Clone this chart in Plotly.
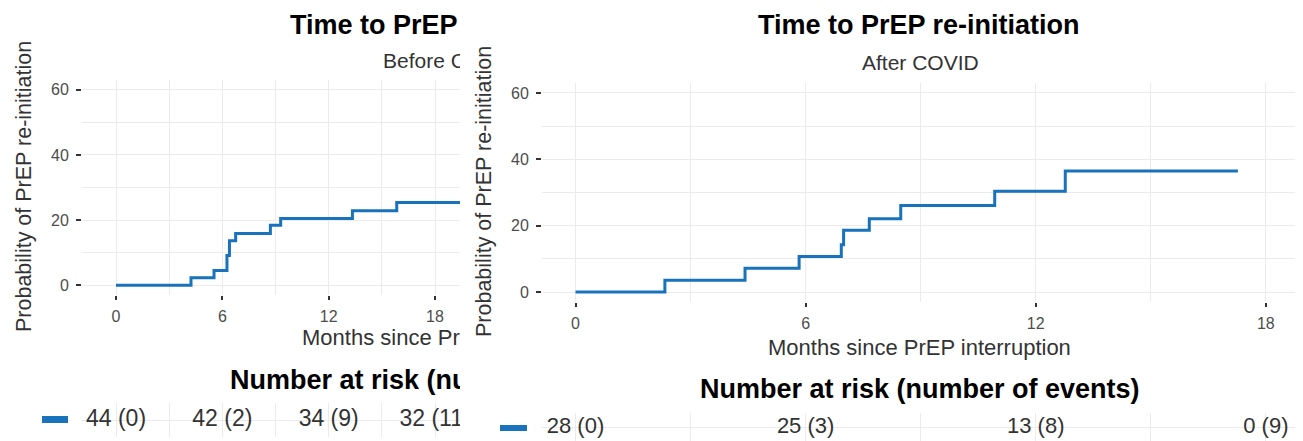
import plotly.graph_objects as go

# The page body keeps the browser's default 8px margin, so the figure is
# drawn 8px in from the top-left corner of the 1303x441 window.
OFF = 8
W, H = 1303 - OFF, 441 - OFF

# ---------------- data ----------------
months_before = [0, 4.23, 5.53, 6.26, 6.40, 6.75, 8.71, 9.29, 13.34, 15.84, 38.0]
prob_before = [0, 2.27, 4.55, 9.09, 13.64, 15.91, 18.45, 20.45, 22.85, 25.4, 25.4]

months_after = [0, 2.33, 4.42, 5.83, 6.93, 6.99, 7.66, 8.48, 10.93, 12.77, 17.27]
prob_after = [0, 3.57, 7.14, 10.71, 14.29, 18.6, 22.1, 26.1, 30.4, 36.5, 36.5]

risk_months = [0, 6, 12, 18]
at_risk_before = [44, 42, 34, 32]
events_before = [0, 2, 9, 11]
at_risk_after = [28, 25, 13, 0]
events_after = [0, 3, 8, 9]

x_ticks = [0, 6, 12, 18]
y_ticks = [0, 20, 40, 60]

title_text = "Time to PrEP re-initiation"
subtitle_before = "Before COVID"
subtitle_after = "After COVID"
x_title = "Months since PrEP interruption"
y_title = "Probability of PrEP re-initiation"
risk_title = "Number at risk (number of events)"

# ---------------- style ----------------
BLUE = "#1872bc"
GRID = "#ebebeb"
FONT = "Liberation Sans, Arial, sans-serif"


def px(x):
    """window pixel x -> paper fraction"""
    return (x - OFF) / W


def py(y):
    """window pixel y -> paper fraction"""
    return 1 - (y - OFF) / H


labels_before = [f"{n} ({e})" for n, e in zip(at_risk_before, events_before)]
labels_after = [f"{n} ({e})" for n, e in zip(at_risk_after, events_after)]

fig = go.Figure()

fig.add_trace(go.Scatter(x=months_before, y=prob_before, mode="lines",
                         line=dict(color=BLUE, width=3, shape="hv"),
                         xaxis="x", yaxis="y", showlegend=False))
fig.add_trace(go.Scatter(x=months_after, y=prob_after, mode="lines",
                         line=dict(color=BLUE, width=3, shape="hv"),
                         xaxis="x2", yaxis="y2", showlegend=False))
fig.add_trace(go.Scatter(x=risk_months, y=[0] * len(risk_months), mode="text",
                         text=labels_before, textposition="middle center",
                         textfont=dict(family=FONT, size=23, color="#333333"),
                         cliponaxis=True, xaxis="x3", yaxis="y3", showlegend=False))
fig.add_trace(go.Scatter(x=risk_months, y=[0] * len(risk_months), mode="text",
                         text=labels_after, textposition="middle center",
                         textfont=dict(family=FONT, size=22, color="#333333"),
                         cliponaxis=False, xaxis="x4", yaxis="y4", showlegend=False))

tickfont = dict(family=FONT, size=16, color="#4d4d4d")


def main_x(domain, rng, anchor):
    return dict(domain=domain, range=rng, anchor=anchor, tickmode="array",
                tickvals=x_ticks, showgrid=True, gridcolor=GRID, gridwidth=1.2,
                minor=dict(dtick=3, tick0=0, showgrid=True, gridcolor=GRID, gridwidth=1),
                zeroline=False, showline=False, ticks="outside", ticklen=4,
                tickwidth=1.5, tickcolor="#333333", tickfont=tickfont,
                ticklabelstandoff=3, automargin=False)


def main_y(domain, anchor):
    return dict(domain=domain, range=[-3, 63], anchor=anchor, tickmode="array",
                tickvals=y_ticks, showgrid=True, gridcolor=GRID, gridwidth=1.2,
                minor=dict(dtick=10, tick0=0, showgrid=True, gridcolor=GRID, gridwidth=1),
                zeroline=False, showline=False, ticks="outside", ticklen=5,
                tickwidth=1.5, tickcolor="#333333", tickfont=tickfont,
                ticklabelstandoff=4, automargin=False)


def risk_x(domain, rng, anchor):
    return dict(domain=domain, range=rng, anchor=anchor, tickmode="array",
                tickvals=x_ticks, showgrid=True, gridcolor=GRID, gridwidth=1.2,
                minor=dict(dtick=3, tick0=0, showgrid=True, gridcolor=GRID, gridwidth=1),
                zeroline=False, showline=False, showticklabels=False, ticks="",
                automargin=False)


def risk_y(domain, anchor):
    return dict(domain=domain, range=[-1, 1], anchor=anchor, tickmode="array",
                tickvals=[0], showgrid=True, gridcolor=GRID, gridwidth=1.2,
                zeroline=False, showline=False, showticklabels=False, ticks="",
                automargin=False)


left_xrange = [-1.92, 19.41]
right_xrange = [-0.874, 18.76]

fig.update_layout(
    width=W, height=H,
    margin=dict(l=0, r=0, t=0, b=0),
    paper_bgcolor="white", plot_bgcolor="white",
    showlegend=False,
    xaxis=main_x([px(82), px(460)], left_xrange, "y"),
    yaxis=main_y([py(295), py(80)], "x"),
    xaxis2=main_x([px(542), px(1295)], right_xrange, "y2"),
    yaxis2=main_y([py(302), py(83)], "x2"),
    xaxis3=risk_x([px(82), px(460)], left_xrange, "y3"),
    yaxis3=risk_y([py(437), py(403)], "x3"),
    xaxis4=risk_x([px(542), px(1295)], right_xrange, "y4"),
    yaxis4=risk_y([py(441), py(413)], "x4"),
)

ann = []


def clipped(text, x0, yc, size, bold=False, color="#333333"):
    t = f"<b>{text}</b>" if bold else text
    ann.append(dict(text=t, x=px(x0), y=py(yc), xref="paper", yref="paper",
                    xanchor="left", yanchor="middle", align="left",
                    width=460 - x0, borderpad=0, borderwidth=0, showarrow=False,
                    font=dict(family=FONT, size=size, color=color)))


def centered(text, xc, yc, size, bold=False, color="#333333", angle=0):
    t = f"<b>{text}</b>" if bold else text
    ann.append(dict(text=t, x=px(xc), y=py(yc), xref="paper", yref="paper",
                    xanchor="center", yanchor="middle", showarrow=False,
                    textangle=angle,
                    font=dict(family=FONT, size=size, color=color)))


# left panel (partly hidden by the right one)
clipped(title_text, 290, 25, 27, bold=True, color="#000000")
clipped(subtitle_before, 383, 61, 21)
clipped(x_title, 302, 337, 22)
clipped(risk_title, 230, 380, 27, bold=True, color="#000000")
centered(y_title, 24, 187, 21.5, angle=-90)

# right panel
centered(title_text, 919, 25, 27, bold=True, color="#000000")
centered(subtitle_after, 920, 62, 21)
centered(x_title, 919, 347, 22)
centered(risk_title, 920, 389, 27, bold=True, color="#000000")
centered(y_title, 484, 192, 21.5, angle=-90)

fig.update_layout(annotations=ann)

# legend keys of the risk tables
fig.add_shape(type="rect", xref="paper", yref="paper",
              x0=px(42), x1=px(68), y0=py(423), y1=py(416),
              fillcolor=BLUE, line=dict(width=0))
fig.add_shape(type="rect", xref="paper", yref="paper",
              x0=px(500), x1=px(527), y0=py(431), y1=py(425),
              fillcolor=BLUE, line=dict(width=0))

fig.write_html("out.html")
